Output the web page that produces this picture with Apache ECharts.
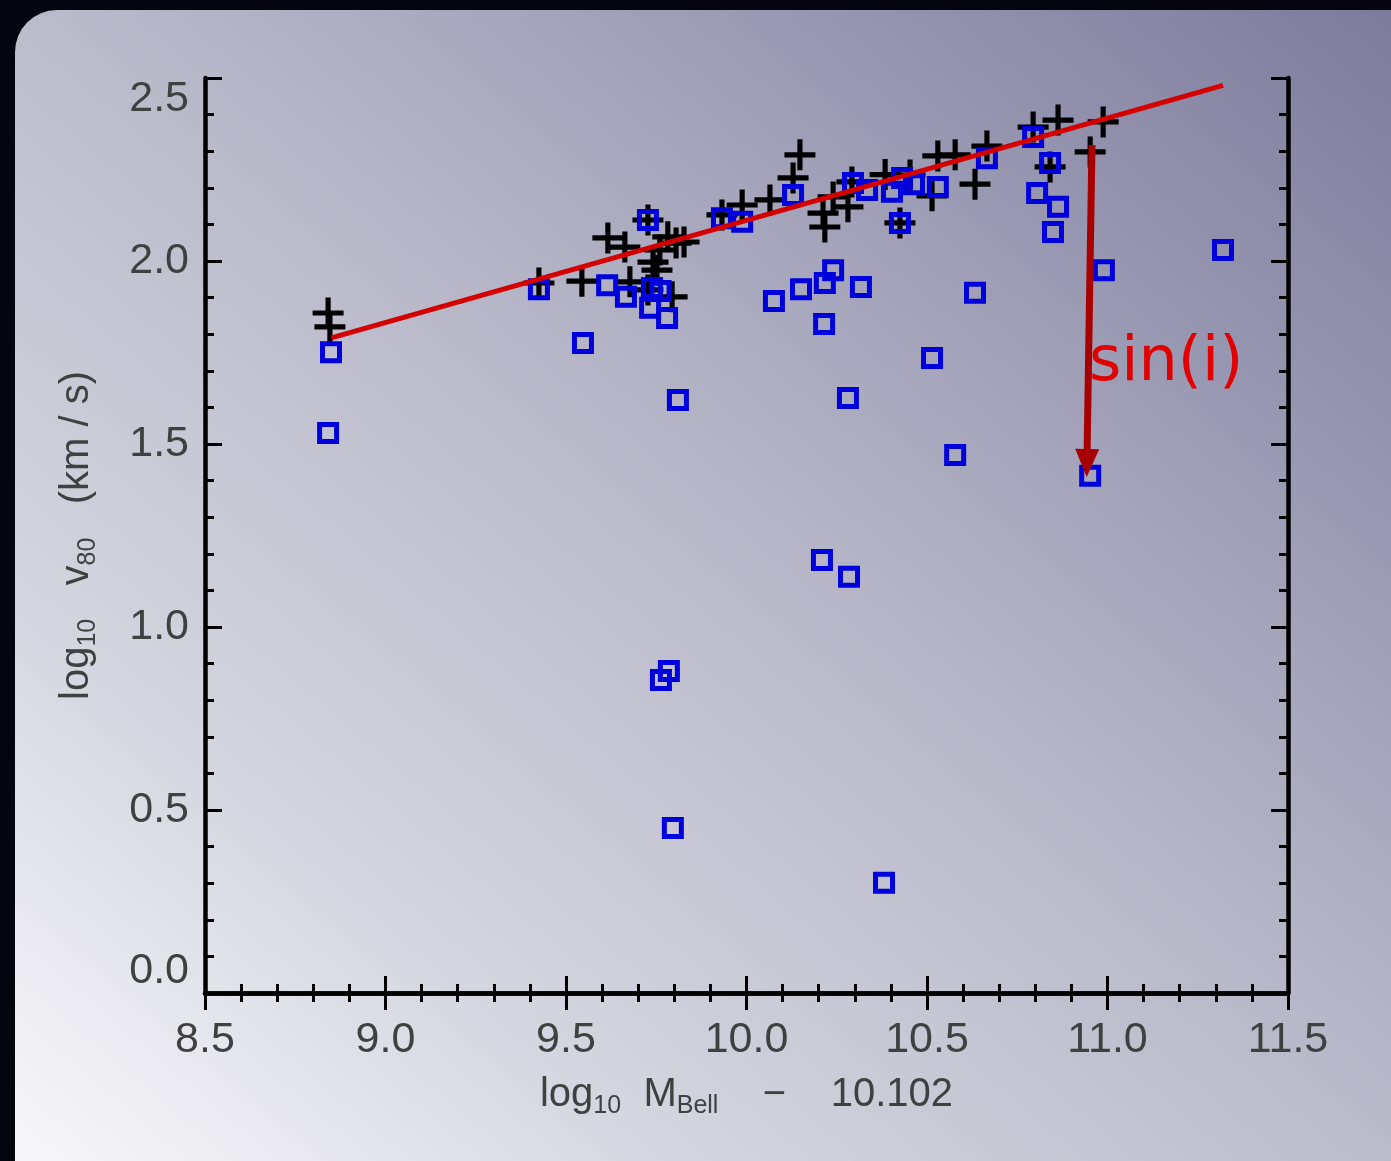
<!DOCTYPE html>
<html>
<head>
<meta charset="utf-8">
<script src="https://cdn.jsdelivr.net/npm/echarts@6/dist/echarts.min.js"></script>
<style>
  html, body { margin: 0; padding: 0; width: 1391px; height: 1161px; overflow: hidden; background: #05050f; }
  #panel { position: absolute; left: 15px; top: 10px; width: 1420px; height: 1200px; border-radius: 42px;
    background: linear-gradient(to top right, #fbfbfd 0%, #d6d6e0 25%, #b6b6c8 55%, #7b799b 100%); }
  #chart { position: absolute; left: 0; top: 0; width: 1391px; height: 1161px; }
</style>
</head>
<body>
<div id="panel"></div>
<div id="chart"></div>
<script>
// Data
const xTicks = [8.5, 9.0, 9.5, 10.0, 10.5, 11.0, 11.5];
const yTicks = [0.0, 0.5, 1.0, 1.5, 2.0, 2.5];

// black '+' points (log10 M_Bell - 10.102, log10 v80)
const crossPoints = [
  [8.841,1.858],[8.846,1.820],[9.425,1.940],[9.544,1.945],[9.616,2.063],[9.663,2.038],
  [9.677,1.943],[9.727,2.112],[9.741,1.997],[9.752,1.975],[9.760,2.030],[9.782,2.066],
  [9.805,2.049],[9.794,1.902],[9.727,1.921],[9.827,2.052],[9.932,2.126],[9.988,2.153],
  [10.065,2.167],[10.148,2.290],[10.129,2.227],[10.212,2.131],[10.217,2.093],[10.240,2.175],
  [10.281,2.148],[10.292,2.216],[10.384,2.236],[10.425,2.104],[10.453,2.235],[10.514,2.178],
  [10.530,2.287],[10.578,2.290],[10.633,2.210],[10.666,2.314],[10.794,2.366],[10.863,2.385],
  [10.841,2.257],[10.988,2.380],[10.952,2.298]
];

// blue square points
const squarePoints = [
  [8.849,1.751],[8.841,1.530],[9.425,1.923],[9.547,1.776],[9.614,1.934],[9.666,1.902],
  [9.727,2.112],[9.738,1.926],[9.733,1.872],[9.780,1.844],[9.762,1.918],[9.810,1.620],
  [9.763,0.855],[9.785,0.880],[9.796,0.451],[9.932,2.117],[9.988,2.107],[10.129,2.180],
  [10.295,2.213],[10.334,2.194],[10.403,2.189],[10.425,2.104],[10.431,2.227],[10.464,2.210],
  [10.530,2.202],[10.666,2.281],[10.794,2.339],[10.841,2.268],[10.805,2.186],[10.863,2.148],
  [10.849,2.079],[10.076,1.891],[10.151,1.923],[10.217,1.940],[10.240,1.975],[10.317,1.929],
  [10.215,1.828],[10.633,1.913],[10.514,1.735],[10.281,1.626],[10.578,1.470],[10.209,1.183],
  [10.284,1.137],[10.381,0.301],[10.990,1.975],[10.952,1.413],[11.320,2.030]
];

// red fit line end points
const fitLine = [[8.85, 1.79], [11.32, 2.48]];
// sin(i) arrow: start and end
const arrowStart = [10.957, 2.317];
const arrowEnd = [10.943, 1.448];
const annotation = 'sin(i)';

const chart = echarts.init(document.getElementById('chart'), null, { renderer: 'canvas' });

const FONT = 'Liberation Sans';
const LABEL_COLOR = '#404040';
const tickCommon = {
  axisLine: { show: true, lineStyle: { color: '#000', width: 4.5 } },
  axisTick: { show: true, inside: true, length: 17, lineStyle: { color: '#000', width: 3 } },
  minorTick: { show: true, splitNumber: 5, length: 9, lineStyle: { color: '#000', width: 3 } },
  splitLine: { show: false },
  minorSplitLine: { show: false }
};

const nameRich = {
  a: { fontFamily: FONT, fontSize: 40, color: LABEL_COLOR, lineHeight: 48, verticalAlign: 'middle' },
  s: { fontFamily: FONT, fontSize: 25, color: LABEL_COLOR, lineHeight: 16, verticalAlign: 'bottom' }
};

const option = {
  backgroundColor: 'transparent',
  animation: false,
  grid: { left: 205, top: 78, right: 103, bottom: 168 },
  xAxis: [
    Object.assign({
      type: 'value', min: 8.5, max: 11.5, interval: 0.5, position: 'bottom',
      axisLabel: { show: true, margin: 26, fontFamily: FONT, fontSize: 43, color: LABEL_COLOR,
        formatter: v => v.toFixed(1) },
      name: '{a|log}{s|10}{a|  M}{s|Bell}{a|    −    10.102}',
      nameLocation: 'middle', nameGap: 78,
      nameTextStyle: { rich: nameRich }
    }, tickCommon),
    Object.assign({
      type: 'value', min: 8.5, max: 11.5, interval: 0.5, position: 'top',
      axisLabel: { show: false }
    }, tickCommon)
  ],
  yAxis: [
    Object.assign({
      type: 'value', min: 0, max: 2.5, interval: 0.5, position: 'left',
      axisLabel: { show: true, margin: 16, fontFamily: FONT, fontSize: 43, color: LABEL_COLOR,
        formatter: v => v.toFixed(1), verticalAlignMaxLabel: 'top', verticalAlignMinLabel: 'bottom' },
      name: '{a|log}{s|10}{a|   v}{s|80}{a|   (km / s)}',
      nameLocation: 'middle', nameGap: 104, nameRotate: 90,
      nameTextStyle: { rich: nameRich }
    }, tickCommon),
    Object.assign({
      type: 'value', min: 0, max: 2.5, interval: 0.5, position: 'right',
      axisLabel: { show: false }
    }, tickCommon)
  ],
  series: [
    {
      name: 'plus', type: 'scatter', xAxisIndex: 0, yAxisIndex: 0,
      data: crossPoints,
      symbol: 'path://M5,0H7V5H12V7H7V12H5V7H0V5H5Z',
      symbolSize: 31,
      itemStyle: { color: '#000', opacity: 1 },
      z: 2
    },
    {
      name: 'square', type: 'scatter', xAxisIndex: 0, yAxisIndex: 0,
      data: squarePoints,
      symbol: 'rect', symbolSize: 17,
      itemStyle: { color: 'rgba(0,0,0,0)', borderColor: '#0000dc', borderWidth: 5, opacity: 1 },
      z: 3
    },
    {
      name: 'fit', type: 'line', xAxisIndex: 0, yAxisIndex: 0,
      data: fitLine, showSymbol: false, symbol: 'none',
      lineStyle: { color: '#d40000', width: 5 },
      z: 4,
      markLine: {
        silent: true, animation: false,
        symbol: ['none', 'triangle'], symbolSize: [24, 28],
        label: { show: false },
        lineStyle: { color: '#a80000', width: 7, type: 'solid' },
        data: [[{ coord: arrowStart }, { coord: arrowEnd }]]
      }
    }
  ],
  graphic: [
    {
      type: 'text', left: 1089, top: 333, z: 10,
      style: { text: annotation, fontFamily: 'DejaVu Sans', fontSize: 62, fill: '#e00000' }
    }
  ]
};

chart.setOption(option);
</script>
</body>
</html>
